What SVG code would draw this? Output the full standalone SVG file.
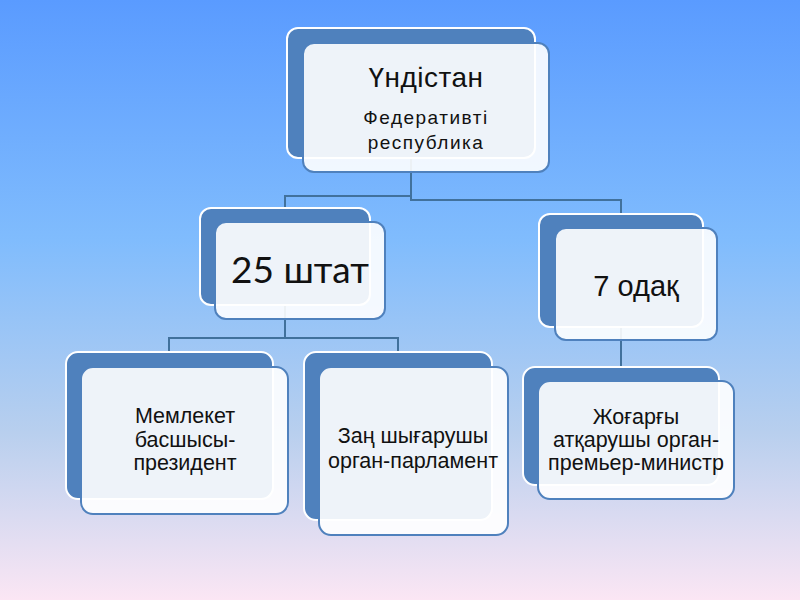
<svg xmlns="http://www.w3.org/2000/svg" width="800" height="600" viewBox="0 0 800 600">
<defs>
<linearGradient id="bg" x1="0" y1="0" x2="0" y2="1">
<stop offset="0" stop-color="#5a9bff"/>
<stop offset="0.4" stop-color="#80bcfd"/>
<stop offset="0.72" stop-color="#b8cfee"/>
<stop offset="1" stop-color="#fbe6f4"/>
</linearGradient>
</defs>
<style>
.back{fill:#4f81bd;stroke:#ffffff;stroke-width:2}
.front{fill:#ffffff;fill-opacity:0.9;stroke:#4f81bd;stroke-width:2}
.conn{fill:none;stroke:#41719c;stroke-width:2}
text{font-family:"Liberation Sans",Arial,sans-serif;fill:#111111;text-anchor:middle}
.big{font-family:Lato,"Open Sans",sans-serif}
.small{font-size:21.5px}
</style>
<rect width="800" height="600" fill="url(#bg)"/>
<g id="connectors">
<path class="conn" d="M411 157 V196 H285 V208"/>
<path class="conn" d="M411 196 V200 H621 V214"/>
<path class="conn" d="M285 305 V338 H169 V352"/>
<path class="conn" d="M285 338 H398 V352"/>
<path class="conn" d="M621 327 V367"/>
</g>
<g id="n-india">
<rect class="back" x="287" y="28" width="248" height="130" rx="11"/>
<rect class="front" x="303" y="43" width="246" height="129" rx="11"/>
<text x="426" y="87" font-size="28" letter-spacing="0.5">Үндістан</text>
<text x="426" y="124" font-size="19" letter-spacing="1.5">Федеративті</text>
<text x="426" y="149" font-size="19" letter-spacing="1.5">республика</text>
</g>
<g id="n-states">
<rect class="back" x="200" y="208" width="170" height="97" rx="11"/>
<rect class="front" x="215" y="222" width="170" height="97" rx="11"/>
<text class="big" x="300" y="283" font-size="37">25 штат</text>
</g>
<g id="n-union">
<rect class="back" x="539" y="214" width="164" height="113" rx="11"/>
<rect class="front" x="555" y="228" width="162" height="112" rx="11"/>
<text x="636" y="296" font-size="29">7 одақ</text>
</g>
<g id="n-head">
<rect class="back" x="66" y="352" width="207" height="147" rx="12"/>
<rect class="front" x="81" y="367" width="207" height="147" rx="12"/>
<text class="small" x="185" y="423">Мемлекет</text>
<text class="small" x="185" y="447">басшысы-</text>
<text class="small" x="185" y="470">президент</text>
</g>
<g id="n-parl">
<rect class="back" x="304" y="352" width="188" height="168" rx="12"/>
<rect class="front" x="319" y="367" width="189" height="168" rx="12"/>
<text class="small" x="413" y="443">Заң шығарушы</text>
<text class="small" x="413" y="468">орган-парламент</text>
</g>
<g id="n-pm">
<rect class="back" x="523" y="367" width="196" height="118" rx="12"/>
<rect class="front" x="538" y="381" width="196" height="118" rx="12"/>
<text class="small" x="636" y="424">Жоғарғы</text>
<text class="small" x="636" y="447">атқарушы орган-</text>
<text class="small" x="636" y="470">премьер-министр</text>
</g>
</svg>
